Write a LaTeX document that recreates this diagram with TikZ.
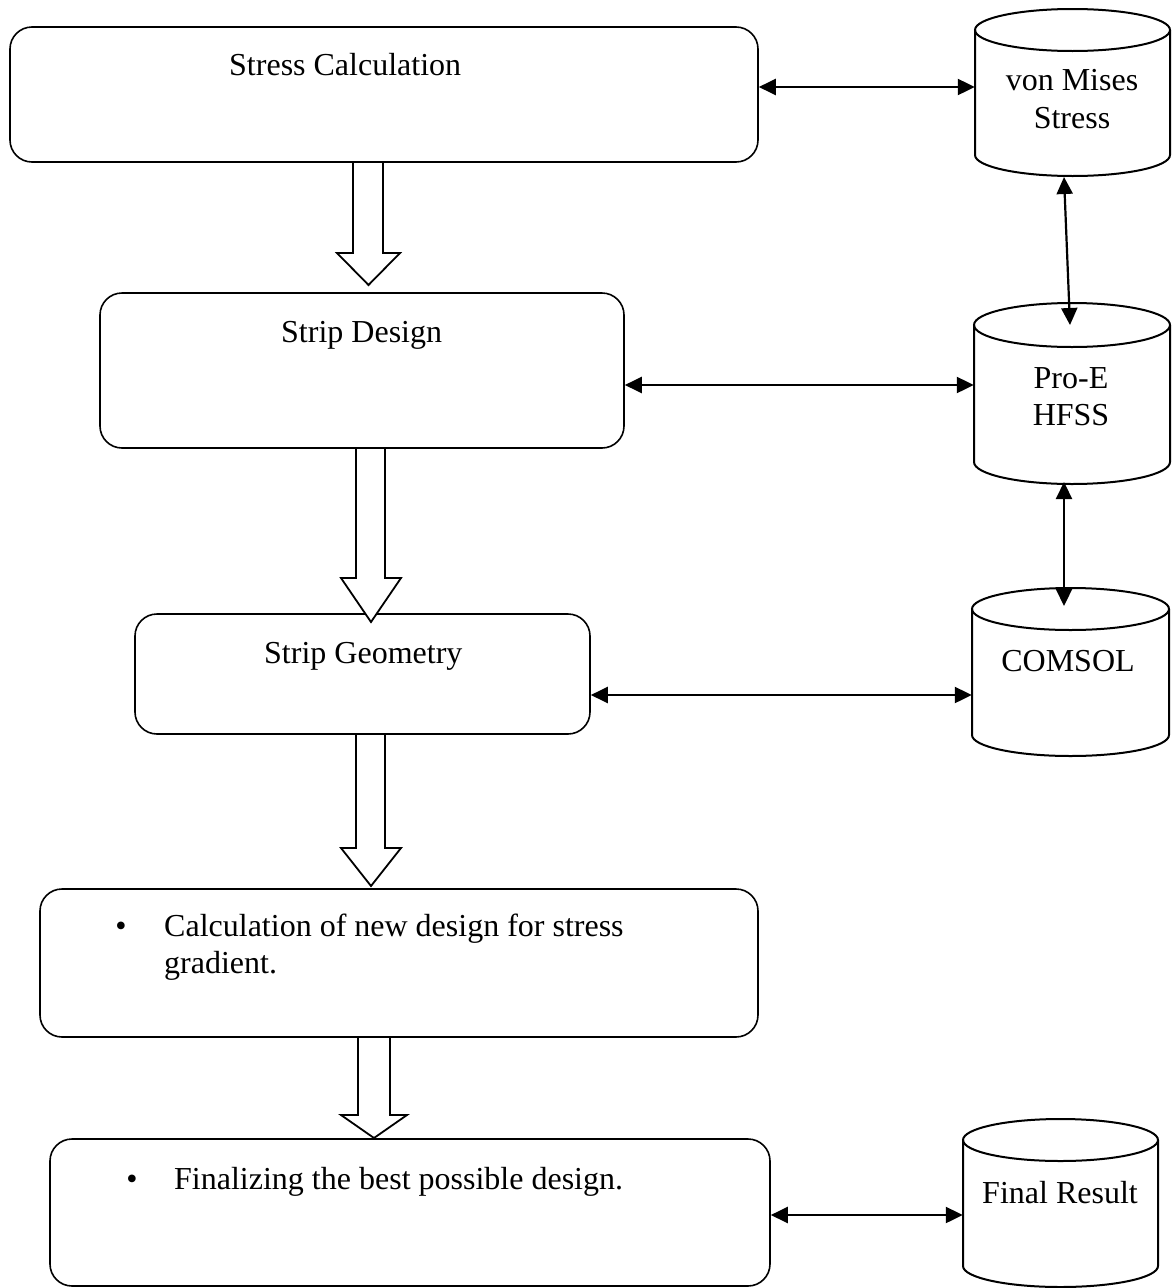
\documentclass[tikz,border=0pt]{standalone}
\usepackage{fontspec}
\setmainfont{Liberation Serif}
\usetikzlibrary{arrows.meta}
\newcommand\drum[5]{% left right ytop ybottom ry
  \fill[white] (#1,#3) rectangle (#2,#4);
  \draw[cyl] (#1,#3) -- (#1,#4) arc[start angle=180,end angle=0,x radius={(#2-#1)/2},y radius=#5] -- (#2,#3);
  \draw[cyl] ({(#1+#2)/2},#3) ellipse [x radius={(#2-#1)/2}, y radius=#5];
}
\newcommand\blkarrow[7]{% shaft left, shaft right, top, neck, head left, head right, tip
  \draw[blk] (#1,#3) -- (#1,#4) -- (#5,#4) -- ({(#5+#6)/2},#7) -- (#6,#4) -- (#2,#4) -- (#2,#3) -- cycle;
}
\begin{document}
\begin{tikzpicture}[x=1pt,y=-1pt,
  box/.style={draw, line width=1.6pt, rounded corners=22pt, inner sep=0pt, fill=white},
  txt/.style={font=\fontsize{32}{38}\selectfont, inner sep=0pt},
  dbl/.style={{Triangle[length=17pt,width=16pt]}-{Triangle[length=17pt,width=16pt]}, line width=2.2pt},
  blk/.style={draw, line width=1.8pt, fill=white, line join=miter},
  cyl/.style={draw, line width=2pt},
  anchorbox/.style={inner sep=0pt, draw=none}]
\fill[white] (0,0) rectangle (1172,1288);
\useasboundingbox (0,0) rectangle (1172,1288);

% process boxes
\node[box, minimum width=748pt, minimum height=135pt] (b1) at (384,94.5) {};
\node[box, minimum width=524pt, minimum height=155pt] (b2) at (362,370.5) {};
\node[box, minimum width=455pt, minimum height=120pt] (b3) at (362.5,674) {};
\node[box, minimum width=718pt, minimum height=148pt] (b4) at (399,963) {};
\node[box, minimum width=720pt, minimum height=147pt] (b5) at (410,1212.5) {};

% box texts
\node[txt, anchor=base west] (t1) at (229,75) {Stress Calculation};
\node[txt, anchor=base west] (t2) at (281,342) {Strip Design};
\node[txt, anchor=base west] (t3) at (264,663) {Strip Geometry};
\node[txt, anchor=base] (u4) at (121,936) {•};
\node[txt, anchor=base west] (t4a) at (164,936) {Calculation of new design for stress};
\node[txt, anchor=base west] (t4b) at (164,973) {gradient.};
\node[txt, anchor=base] (u5) at (132,1189) {•};
\node[txt, anchor=base west] (t5) at (174,1189) {Finalizing the best possible design.};

% block arrows between boxes
\blkarrow{353}{383}{162}{253}{337}{400}{285}
\blkarrow{356}{385}{448}{578}{341}{401}{622}
\blkarrow{356}{385}{734}{848}{341}{401}{886}
\blkarrow{358}{390}{1037}{1115}{341}{407}{1138}

% cylinders
\drum{975}{1170}{30}{155}{21}
\drum{974}{1170}{325}{462}{22}
\drum{972}{1169}{609}{735}{21}
\drum{963}{1158}{1140}{1266}{21}
\node[anchorbox, minimum width=195pt, minimum height=167pt] (c1) at (1072.5,92) {};
\node[anchorbox, minimum width=196pt, minimum height=181pt] (c2) at (1072,393) {};
\node[anchorbox, minimum width=197pt, minimum height=168pt] (c3) at (1070.5,672) {};
\node[anchorbox, minimum width=195pt, minimum height=168pt] (c4) at (1060.5,1203) {};

\node[txt, anchor=base] (s1a) at (1072,90) {von Mises};
\node[txt, anchor=base] (s1b) at (1072,128) {Stress};
\node[txt, anchor=base] (s2a) at (1071,388) {Pro-E};
\node[txt, anchor=base] (s2b) at (1071,425) {HFSS};
\node[txt, anchor=base] (s3) at (1068,671) {COMSOL};
\node[txt, anchor=base] (s4) at (1060,1203) {Final Result};

% connectors
\coordinate (y1) at (0,87);
\coordinate (y2) at (0,385);
\coordinate (y3) at (0,695);
\coordinate (y5) at (0,1215);
\draw[dbl] (b1.east |- y1) -- (c1.west |- y1);
\draw[dbl] (b2.east |- y2) -- (c2.west |- y2);
\draw[dbl] (b3.east |- y3) -- (c3.west |- y3);
\draw[dbl] (b5.east |- y5) -- (c4.west |- y5);

\coordinate (p1) at (1064,177);
\coordinate (p2) at (1070,325);
\coordinate (p3) at (1064,482);
\coordinate (p4) at (1064,606);
\draw[dbl] (p1) -- (p2);
\draw[dbl] (p3) -- (p4);
\end{tikzpicture}
\end{document}
